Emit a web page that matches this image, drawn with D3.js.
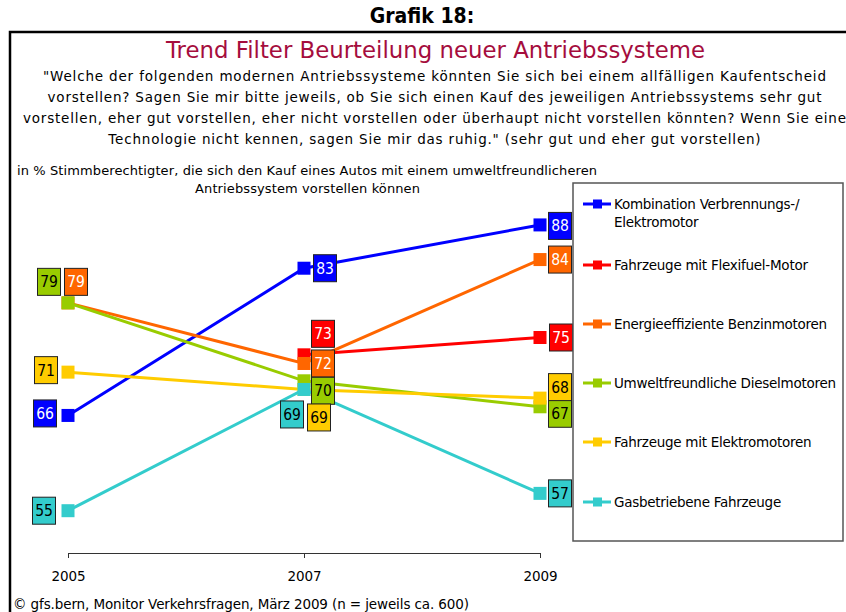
<!DOCTYPE html>
<html>
<head>
<meta charset="utf-8">
<script src="https://cdn.jsdelivr.net/npm/d3@7"></script>
<style>
  html, body { margin: 0; padding: 0; background: #fff; }
  svg { display: block; }
  text { font-family: "DejaVu Sans", sans-serif; }
</style>
</head>
<body>
<svg id="chart" width="846" height="612"></svg>
<script>
// ---- data ----
const years = ["2005", "2007", "2009"];
const seriesNames = [
  "Kombination Verbrennungs-/|Elektromotor",
  "Fahrzeuge mit Flexifuel-Motor",
  "Energieeffiziente Benzinmotoren",
  "Umweltfreundliche Dieselmotoren",
  "Fahrzeuge mit Elektromotoren",
  "Gasbetriebene Fahrzeuge"
];
const kombination = [66, 83, 88];
const flexifuel   = [null, 73, 75];
const benzin      = [79, 72, 84];
const diesel      = [79, 70, 67];
const elektro     = [71, 69, 68];
const gas         = [55, 69, 57];
const seriesValues = [kombination, flexifuel, benzin, diesel, elektro, gas];
const seriesColors = ["#0000FF", "#FF0000", "#FF6600", "#99CC00", "#FFCC00", "#33CCCC"];
const labelTextColors = ["#fff", "#fff", "#fff", "#000", "#000", "#000"];

const titleText = "Trend Filter Beurteilung neuer Antriebssysteme";
const questionLines = [
  "\"Welche der folgenden modernen Antriebssysteme könnten Sie sich bei einem allfälligen Kaufentscheid",
  "vorstellen? Sagen Sie mir bitte jeweils, ob Sie sich einen Kauf des jeweiligen Antriebssystems sehr gut",
  "vorstellen, eher gut vorstellen, eher nicht vorstellen oder überhaupt nicht vorstellen könnten? Wenn Sie eine",
  "Technologie nicht kennen, sagen Sie mir das ruhig.\" (sehr gut und eher gut vorstellen)"
];
const subtitleLines = [
  "in % Stimmberechtigter, die sich den Kauf eines Autos mit einem umweltfreundlicheren",
  "Antriebssystem vorstellen können"
];
const footnote = "© gfs.bern, Monitor Verkehrsfragen, März 2009 (n = jeweils ca. 600)";

// ---- layout (label placement offsets per series / year) ----
const labelOffsets = [
  [[-23, -2], [21, 0], [20, 1]],
  [null, [19, -21], [21, 0]],
  [[8, -21], [19, 0], [20, 0]],
  [[-19, -21], [19, 10], [20, 7]],
  [[-22, -2], [15, 28], [20, -11]],
  [[-24, 0], [-12, 25], [20, 0]]
];

const svg = d3.select("#chart");

function fitTo(sel, width) {
  sel.attr("textLength", width).attr("lengthAdjust", "spacingAndGlyphs");
}

// header
svg.append("text").attr("x", 422).attr("y", 23).attr("text-anchor", "middle")
  .style("font-family", "'Liberation Sans Narrow', 'DejaVu Sans Condensed', sans-serif")
  .style("font-weight", "bold").style("font-size", "21px").text("Grafik 18:");

// frame
svg.append("rect").attr("x", 10).attr("y", 32).attr("width", 900).attr("height", 700)
  .attr("fill", "none").attr("stroke", "#000").attr("stroke-width", 2.5);

const title = svg.append("text").attr("x", 435.5).attr("y", 58).attr("text-anchor", "middle")
  .style("font-size", "22.5px").style("fill", "#A50D3D").text(titleText);
fitTo(title, 539);

const qSel = svg.selectAll("text.q").data(questionLines).enter().append("text")
  .attr("class", "q").attr("x", 434.5).attr("y", (d, i) => 81 + i * 21)
  .attr("text-anchor", "middle").style("font-size", "13.5px").text(d => d);
const qScale = 783 / qSel.nodes()[0].getComputedTextLength();
qSel.each(function () {
  const w = this.getComputedTextLength() * qScale;
  d3.select(this).attr("textLength", w).attr("lengthAdjust", "spacing");
});

const sub1 = svg.append("text").attr("x", 17).attr("y", 175).style("font-size", "13px").text(subtitleLines[0]);
const subScale = 580 / sub1.node().getComputedTextLength();
sub1.attr("textLength", 580).attr("lengthAdjust", "spacing");
const sub2 = svg.append("text").attr("x", 307.5).attr("y", 193).attr("text-anchor", "middle").style("font-size", "13px").text(subtitleLines[1]);
sub2.attr("textLength", sub2.node().getComputedTextLength() * subScale).attr("lengthAdjust", "spacing");

const foot = svg.append("text").attr("x", 13).attr("y", 609).style("font-size", "13.5px").text(footnote);
foot.attr("textLength", 456).attr("lengthAdjust", "spacing");

// scales
const x = d3.scalePoint().domain(years).range([68, 540]);
const y = d3.scaleLinear().domain([50, 100]).range([554, 121]);

// axis
const axisG = svg.append("g").attr("transform", "translate(0,553)")
  .call(d3.axisBottom(x).tickSize(5).tickSizeOuter(0).tickPadding(13));
axisG.select(".domain").attr("stroke", "#333");
axisG.selectAll(".tick line").attr("stroke", "#333");
axisG.selectAll(".tick text").style("font-size", "13.5px")
  .style("font-family", "'DejaVu Sans', sans-serif").attr("fill", "#000")
  .attr("textLength", 34).attr("lengthAdjust", "spacing");

// lines & markers
const line = d3.line().defined(d => d.v != null).x(d => x(d.year)).y(d => y(d.v));
seriesValues.forEach((vals, si) => {
  const pts = vals.map((v, i) => ({ year: years[i], v }));
  svg.append("path").datum(pts).attr("d", line).attr("fill", "none")
    .attr("stroke", seriesColors[si]).attr("stroke-width", 3);
  svg.selectAll(null).data(pts.filter(p => p.v != null)).enter().append("rect")
    .attr("x", d => x(d.year) - 6.5).attr("y", d => y(d.v) - 6.5)
    .attr("width", 13).attr("height", 13).attr("fill", seriesColors[si]);
});

// data labels
seriesValues.forEach((vals, si) => {
  vals.forEach((v, i) => {
    if (v == null) return;
    const off = labelOffsets[si][i];
    const cx = x(years[i]) + off[0], cy = y(v) + off[1];
    svg.append("rect").attr("x", cx - 11.5).attr("y", cy - 13.5).attr("width", 23).attr("height", 27)
      .attr("fill", seriesColors[si]).attr("stroke", "#222").attr("stroke-width", 1);
    svg.append("text").attr("x", cx).attr("y", cy + 5.5).attr("text-anchor", "middle")
      .style("font-family", "'DejaVu Sans Condensed', sans-serif")
      .style("font-size", "15.5px").style("fill", labelTextColors[si]).text(v);
  });
});

// legend
svg.append("rect").attr("x", 573).attr("y", 183).attr("width", 270).attr("height", 358)
  .attr("fill", "#fff").attr("stroke", "#555").attr("stroke-width", 1.5);
const legendY = [204, 265, 324, 383, 442, 502];
const legendTexts = [];
seriesNames.forEach((name, si) => {
  const ly = legendY[si];
  svg.append("line").attr("x1", 583).attr("x2", 611).attr("y1", ly).attr("y2", ly)
    .attr("stroke", seriesColors[si]).attr("stroke-width", 3);
  svg.append("rect").attr("x", 593).attr("y", ly - 4.5).attr("width", 9).attr("height", 9)
    .attr("fill", seriesColors[si]);
  name.split("|").forEach((p, k) => {
    legendTexts.push(svg.append("text").attr("x", 614).attr("y", ly + 5 + k * 18)
      .style("font-size", "13.5px").text(p));
  });
});
const legScale = 222 / legendTexts[4].node().getComputedTextLength();
legendTexts.forEach(t => t.attr("textLength", t.node().getComputedTextLength() * legScale).attr("lengthAdjust", "spacing"));
</script>
</body>
</html>
